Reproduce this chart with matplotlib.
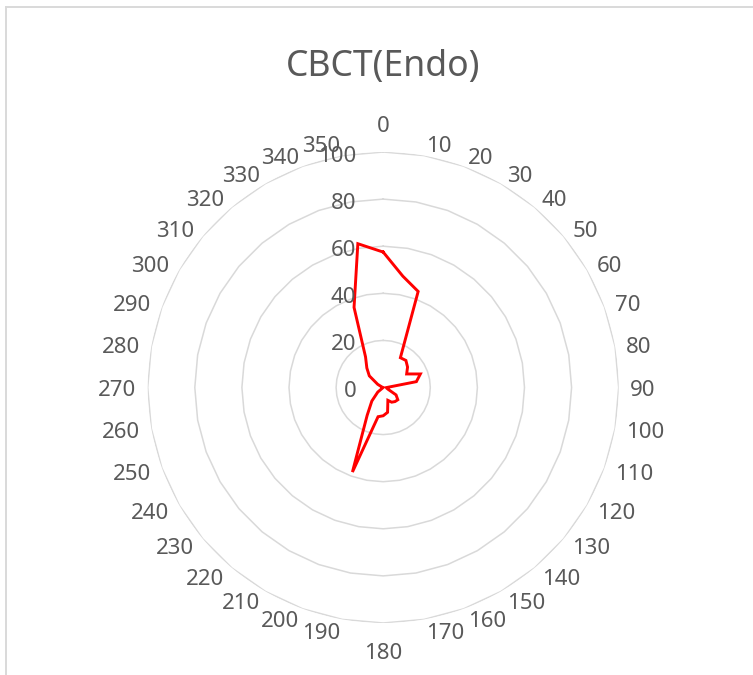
import numpy as np
import matplotlib
matplotlib.use("Agg")
import matplotlib.pyplot as plt
from matplotlib.lines import Line2D
from matplotlib.transforms import ScaledTranslation

plt.rcParams['font.family'] = ['Noto Sans', 'DejaVu Sans']

title = "CBCT(Endo)"
categories = list(range(0, 360, 10))
values = [57.5, 48, 43.4, 14.6, 15, 13.5, 11.5, 16.8, 14.3, 1.5,
          1.5, 2.2, 6.3, 8.1, 7.8, 7.2, 5.8, 10.7, 12, 12.6,
          38.2, 13.6, 7.5, 3, 0, 0, 0, 0, 0, 0.5,
          2.7, 7.7, 10.8, 15, 36.2, 62]
r_ticks = [0, 20, 40, 60, 80, 100]

W, H = 753, 675
fig = plt.figure(figsize=(W / 100, H / 100), dpi=100)
fig.patch.set_facecolor('white')

cx, cy, R = 383.2, 387.5, 235.5
ax = fig.add_axes([(cx - R) / W, (H - cy - R) / H, 2 * R / W, 2 * R / H],
                  projection='polar')
ax.set_theta_zero_location('N')
ax.set_theta_direction(-1)
ax.set_ylim(0, 100)
ax.grid(False)
ax.spines['polar'].set_visible(False)
ax.set_xticks([])
ax.set_yticks([])
ax.patch.set_visible(False)

text_color = '#595959'
grid_color = '#D9D9D9'

theta = np.deg2rad(categories)
theta_c = np.append(theta, theta[0])

# ring gridlines (polygon through category spokes)
for rv in r_ticks[1:]:
    ax.plot(theta_c, [rv] * len(theta_c), color=grid_color, lw=1.1, zorder=1)

# data series
vals_c = np.append(values, values[0])
ax.plot(theta_c, vals_c, color='#FF0000', lw=2.1, zorder=3, solid_joinstyle='miter')

# category labels
for c, th in zip(categories, theta):
    if c == 0 or c == 180:
        ax.text(th, 112, str(c), ha='center', va='center_baseline', fontsize=16, color=text_color)
    elif c < 180:
        ax.text(th, 104.8, str(c), ha='left', va='center_baseline', fontsize=16, color=text_color)
    else:
        ax.text(th, 104.8, str(c), ha='right', va='center_baseline', fontsize=16, color=text_color)

# radial value labels
off = ax.transData + ScaledTranslation(-27 / 100, -1.5 / 100, fig.dpi_scale_trans)
for rv in r_ticks:
    ax.text(0, rv, str(rv), ha='right', va='center_baseline', fontsize=16,
            color=text_color, transform=off)

# title
fig.text(cx / W, 1 - 62.5 / H, title, ha='center', va='center_baseline',
         fontsize=25.6, color=text_color)

# chart border (top and left visible)
fig.add_artist(Line2D([5.8 / W, 5.8 / W], [0, 1 - 7.2 / H], color=grid_color, lw=1.4,
                      transform=fig.transFigure))
fig.add_artist(Line2D([5.8 / W, 1], [1 - 7.2 / H, 1 - 7.2 / H], color=grid_color, lw=1.4,
                      transform=fig.transFigure))

fig.savefig('out.png', dpi=100, facecolor='white')
